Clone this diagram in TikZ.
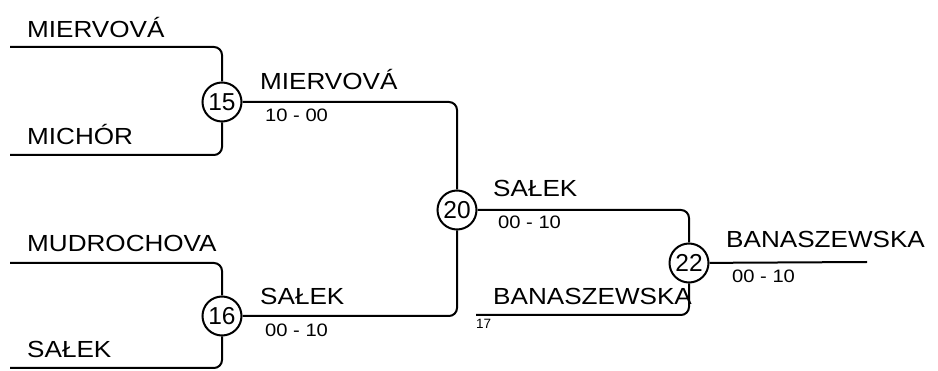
\documentclass[tikz,border=0pt]{standalone}
\usepackage{fontspec}
\setmainfont{Liberation Sans}
\newfontfamily\widefont[FakeStretch=1.12]{Liberation Sans}
\begin{document}
\begin{tikzpicture}[x=1pt,y=-1pt,
  br/.style={line width=2pt,rounded corners=8pt},
  matchc/.style={circle,draw,line width=2pt,fill=white,minimum size=39pt,inner sep=0pt,font=\fontsize{24.5}{24.5}\selectfont},
  nm/.style={anchor=base west,inner sep=0pt,font=\widefont\fontsize{23.3}{23.3}\selectfont},
  sc/.style={anchor=base west,inner sep=0pt,font=\widefont\fontsize{18}{18}\selectfont},
  sm/.style={anchor=base west,inner sep=0pt,font=\fontsize{13.5}{13.5}\selectfont}]
\useasboundingbox (0,0) rectangle (938,371);
\coordinate (a1) at (10,47);
\coordinate (a2) at (10,155);
\coordinate (a3) at (10,263);
\coordinate (a4) at (10,368);
\coordinate (b17) at (476,315);
\coordinate (fin) at (867,262);
\node[matchc] (m15) at (222,102) {15};
\node[matchc] (m16) at (222,316) {16};
\node[matchc] (m20) at (457,210) {20};
\node[matchc] (m22) at (689,263) {22};
\draw[br] (a1) -| (m15);
\draw[br] (a2) -| (m15);
\draw[br] (a3) -| (m16);
\draw[br] (a4) -| (m16);
\draw[br] (m15) -| (m20);
\draw[br] (m16) -| (m20);
\draw[br] (m20) -| (m22);
\draw[br] (b17) -| (m22);
\draw[br] (m22) -- (fin);
\node[nm] (t1) at (27,38) {MIERVOVÁ};
\node[nm] (t2) at (27,145) {MICHÓR};
\node[nm] (t3) at (27,252) {MUDROCHOVA};
\node[nm] (t4) at (27,358) {SAŁEK};
\node[nm] (w15) at (260,90) {MIERVOVÁ};
\node[sc] (s15) at (265,122) {10 - 00};
\node[nm] (w16) at (260,305) {SAŁEK};
\node[sc] (s16) at (265,337) {00 - 10};
\node[nm] (w20) at (493,197) {SAŁEK};
\node[sc] (s20) at (498,229) {00 - 10};
\node[nm] (w22) at (726,248) {BANASZEWSKA};
\node[sc] (s22) at (732,283) {00 - 10};
\node[nm] (wb) at (493,305) {BANASZEWSKA};
\node[sm] (n17) at (476,329) {17};
\end{tikzpicture}
\end{document}
